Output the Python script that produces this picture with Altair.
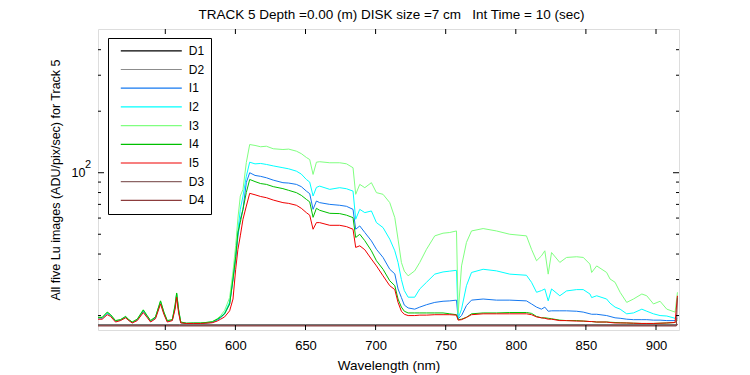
import altair as alt
import pandas as pd

# ---------------- data ----------------
series_names = ["D1", "D2", "I1", "I2", "I3", "I4", "I5", "D3", "D4"]
series_colors = ["#000000", "#8c8c8c", "#1478f0", "#00ffff", "#80ff80",
                 "#00c000", "#f00000", "#8c6464", "#8c3c3c"]

wl_I = [502, 505, 508.6, 511, 514.5, 518, 521.7, 524, 526.4, 530, 534.3, 537, 539.5, 543,
        546.6, 549, 551.4, 555, 557, 558.1, 559.5, 561, 565, 570, 575, 579, 583.5, 587,
        589.5, 592.3, 595.9, 598.3, 600.2, 601.8, 603.5, 605.4, 607.8, 610.2, 614, 618,
        622.1, 627, 633.9, 638, 643.5, 647, 650.6, 653, 655.4, 657.8, 660.1, 667.3, 674.4,
        679.2, 683.9, 685.8, 688.7, 692.3, 697, 700.6, 705.3, 710.1, 713.7, 716, 718.4,
        720.5, 723.2, 727.9, 731.5, 736.3, 742.2, 748.1, 752.9, 757.7, 758.9, 761.3, 764.8,
        768.4, 776.7, 786.2, 795.7, 807.6, 811.2, 814.8, 818.3, 820.7, 823.1, 825.5, 831.4,
        836.2, 843.4, 848.1, 852.9, 854.1, 857.7, 864.8, 867.2, 870.8, 874.4, 879.1, 883.9,
        889.9, 893.4, 898.2, 902.9, 907.7, 913.6, 915.3]

I3 = [19.6, 19.6, 20.8, 20.2, 18.9, 19.1, 19.8, 19.1, 18.6, 19.2, 21.4, 20.0, 18.9, 19.7,
      23.6, 20.8, 18.9, 19.1, 22.5, 25.8, 21.4, 18.6, 18.35, 18.4, 18.4, 18.5, 18.7, 19.3,
      20.0, 21.2, 24.5, 33.0, 44.0, 60.0, 76.9, 82.9, 112.3, 137.4, 136.0, 134.0,
      134.8, 131.0, 129.9, 130.5, 127.5, 124.0, 118.8, 116.0, 98.1, 112.6, 113.2, 111.9, 111.9,
      110.6, 105.8, 78.4, 87.7, 84.5, 89.4, 79.9, 78.4, 71.4, 60.3, 47.3, 36.4,
      33.0, 31.3, 33.1, 36.4, 42.2, 49.1, 50.6, 51.0, 51.9, 20.5, 35.0, 45.6,
      51.9, 53.3, 51.9, 50.0, 49.1, 42.2, 37.1, 39.2, 41.5, 31.9, 40.7, 36.4,
      38.5, 38.8, 38.5, 35.7, 32.5, 35.0, 32.5, 30.2, 29.1, 26.0, 23.2, 24.1,
      25.5, 25.0, 22.8, 23.5, 21.5, 20.8, 26.0]

I2 = [19.5, 19.5, 20.6, 20.0, 18.8, 19.0, 19.7, 19.0, 18.5, 19.1, 21.2, 19.9, 18.8, 19.6,
      23.4, 20.6, 18.8, 19.0, 22.2, 25.5, 21.2, 18.5, 18.3, 18.35, 18.35, 18.45, 18.6, 19.1,
      19.7, 20.6, 23.3, 30.5, 40.0, 52.0, 66.2, 76.9, 96.2, 112.6, 110.5, 111.0,
      109.8, 108.0, 105.8, 104.5, 101.8, 98.5, 92.7, 90.0, 76.9, 84.8, 86.0, 82.9, 84.5,
      83.5, 81.3, 59.2, 66.2, 63.8, 65.0, 57.0, 53.9, 47.3, 41.5, 36.4, 30.0,
      26.5, 24.6, 24.6, 27.0, 29.1, 31.9, 32.7, 33.0, 33.3, 19.4, 21.5, 28.0,
      32.5, 33.7, 33.1, 31.9, 31.5, 29.1, 26.0, 26.5, 27.0, 23.6, 27.0, 25.0,
      26.4, 26.8, 26.8, 25.5, 24.5, 25.0, 24.1, 23.0, 22.0, 21.5, 20.4, 20.6,
      21.5, 21.0, 20.4, 20.0, 19.9, 19.4, 20.0]

I1 = [19.5, 19.4, 20.5, 20.0, 18.8, 19.0, 19.6, 19.0, 18.5, 19.0, 21.0, 19.8, 18.75, 19.5,
      23.2, 20.5, 18.75, 19.0, 22.0, 25.4, 21.0, 18.5, 18.3, 18.3, 18.3, 18.4, 18.5, 19.0,
      19.5, 20.4, 22.8, 30.0, 38.0, 49.0, 59.2, 66.2, 89.7, 100.0, 97.0, 96.0,
      94.5, 92.0, 89.4, 89.0, 87.7, 85.5, 81.3, 79.0, 66.2, 72.7, 71.4, 70.0, 69.3,
      68.5, 66.2, 52.9, 54.9, 51.0, 46.4, 42.2, 38.5, 33.7, 32.0, 27.0, 24.5,
      22.5, 21.8, 21.5, 22.0, 22.6, 23.2, 23.5, 23.6, 23.8, 19.3, 20.0, 22.4,
      23.8, 24.1, 23.8, 23.8, 23.6, 22.8, 22.0, 21.5, 22.0, 21.0, 21.1, 21.1,
      21.1, 21.0, 20.8, 20.4, 20.3, 20.3, 20.0, 19.8, 19.5, 19.4, 19.2, 19.1,
      19.1, 19.1, 19.0, 19.0, 18.9, 18.9, 19.5]

I4 = [19.6, 19.6, 20.8, 20.2, 18.9, 19.1, 19.8, 19.1, 18.6, 19.2, 21.3, 20.0, 18.9, 19.7,
      23.6, 20.8, 18.9, 19.1, 22.6, 25.8, 21.4, 18.6, 18.35, 18.4, 18.4, 18.5, 18.65, 19.2,
      19.7, 20.4, 22.8, 30.2, 38.8, 51.1, 57.2, 66.2, 80.1, 92.7, 90.5, 88.5,
      87.7, 85.5, 83.6, 82.0, 79.9, 77.5, 74.1, 72.0, 60.5, 67.0, 65.5, 63.3, 63.1,
      62.0, 60.3, 48.2, 50.0, 46.5, 41.5, 37.1, 33.7, 29.6, 28.0, 24.1, 22.0,
      21.0, 20.6, 20.6, 20.6, 20.6, 20.6, 20.6, 20.4, 20.2, 19.1, 19.2, 19.6,
      20.4, 20.6, 20.6, 20.7, 20.7, 20.5, 19.8, 19.5, 19.5, 19.4, 19.3, 19.0,
      18.9, 18.9, 18.8, 18.7, 18.7, 18.6, 18.6, 18.55, 18.5, 18.45, 18.4, 18.35,
      18.3, 18.3, 18.3, 18.35, 18.4, 18.5, 19.0]

I5 = [19.2, 19.2, 20.2, 19.8, 18.6, 18.9, 19.5, 18.9, 18.4, 18.9, 20.7, 19.6, 18.6, 19.3,
      22.8, 20.3, 18.6, 18.9, 21.5, 24.6, 20.6, 18.4, 18.3, 18.3, 18.3, 18.35, 18.45, 18.8,
      19.2, 19.7, 21.1, 24.1, 33.7, 42.2, 49.1, 59.2, 68.7, 79.3, 78.0, 76.5,
      75.5, 73.5, 71.4, 70.8, 69.3, 67.0, 63.8, 62.0, 52.9, 57.0, 57.0, 55.3, 55.3,
      54.5, 52.9, 43.1, 43.9, 42.0, 37.8, 35.0, 31.3, 28.0, 26.8, 23.2, 21.0,
      20.3, 20.0, 20.0, 20.1, 20.1, 20.2, 20.2, 20.2, 20.1, 19.0, 19.1, 19.6,
      20.2, 20.4, 20.4, 20.4, 20.4, 20.2, 19.7, 19.5, 19.4, 19.2, 19.2, 18.9,
      18.9, 18.8, 18.8, 18.7, 18.7, 18.6, 18.6, 18.5, 18.4, 18.4, 18.4, 18.35,
      18.3, 18.3, 18.3, 18.35, 18.4, 18.5, 25.0]

wl_D = [502, 560, 600, 650, 700, 750, 800, 850, 900, 914.5, 915.3]
D1 = [18.0, 18.0, 18.0, 18.0, 18.0, 18.0, 18.0, 18.0, 18.0, 18.0, 18.1]
D2 = [17.95, 17.95, 17.95, 17.95, 17.95, 17.95, 17.95, 17.95, 17.95, 17.95, 18.0]
D3 = [17.85, 17.85, 17.85, 17.85, 17.85, 17.85, 17.85, 17.85, 17.85, 17.85, 18.2]
D4 = [17.8, 17.8, 17.8, 17.8, 17.8, 17.8, 17.8, 17.8, 17.8, 17.8, 24.5]

x_ticks = [550, 600, 650, 700, 750, 800, 850, 900]
y_major = [100]
y_minor = [20, 30, 40, 50, 60, 70, 80, 90, 200, 300, 400]

title_text = "TRACK 5 Depth =0.00 (m) DISK size =7 cm \u00a0\u00a0Int Time = 10 (sec)"

# ---------------- build table ----------------
vals = {"D1": D1, "D2": D2, "I1": I1, "I2": I2, "I3": I3, "I4": I4, "I5": I5, "D3": D3, "D4": D4}
rows = []
for name in series_names:
    xs = wl_D if name.startswith("D") else wl_I
    ys = vals[name]
    assert len(xs) == len(ys), name
    for w, v in zip(xs, ys):
        rows.append({"wl": w, "val": v, "series": name})
df = pd.DataFrame(rows)

W, H = 581, 301
FONT = "Liberation Sans"
xscale = alt.Scale(domain=[502, 916.4], nice=False, zero=False)
yscale = alt.Scale(type="log", domain=[17, 505], nice=False)

lines = alt.Chart(df).mark_line(strokeWidth=1, interpolate="linear").encode(
    x=alt.X("wl:Q", scale=xscale,
            axis=alt.Axis(values=x_ticks, ticks=False, domain=False, grid=False,
                          labelFont=FONT, labelFontSize=13, labelColor="black",
                          labelPadding=9, title="Wavelength (nm)", titleFont=FONT,
                          titleFontSize=13.5, titleFontWeight="normal", titleColor="black",
                          titlePadding=6)),
    y=alt.Y("val:Q", scale=yscale,
            axis=alt.Axis(values=y_major, labelExpr="'10'", ticks=False, domain=False,
                          grid=False, labelFont=FONT, labelFontSize=12.5, labelColor="black",
                          labelPadding=13,
                          title="All five Lu images (ADU/pix/sec) for Track 5",
                          titleFont=FONT, titleFontSize=12.5, titleFontWeight="normal",
                          titleColor="black", titlePadding=9)),
    color=alt.Color("series:N", sort=series_names,
                    scale=alt.Scale(domain=series_names, range=series_colors),
                    legend=alt.Legend(orient="none", legendX=10, legendY=9, title=None,
                                      symbolType="M0,0H12.2", symbolSize=100,
                                      symbolStrokeWidth=1.2, symbolOffset=0,
                                      labelFont=FONT, labelFontSize=12, labelColor="black",
                                      labelOffset=62, rowPadding=6.7, padding=6.8,
                                      strokeColor="black", fillColor="white",
                                      labelExpr="datum.label + '   '")),
)

xt = pd.DataFrame({"wl": x_ticks})
ymaj = pd.DataFrame({"val": y_major})
ymin = pd.DataFrame({"val": y_minor})

xb = alt.Chart(xt).mark_rule(color="black", strokeWidth=1).encode(
    x=alt.X("wl:Q", scale=xscale), y=alt.value(H), y2=alt.value(H - 5))
xtop = alt.Chart(xt).mark_rule(color="black", strokeWidth=1).encode(
    x=alt.X("wl:Q", scale=xscale), y=alt.value(0), y2=alt.value(5))
yl_maj = alt.Chart(ymaj).mark_rule(color="black", strokeWidth=1).encode(
    y=alt.Y("val:Q", scale=yscale), x=alt.value(0), x2=alt.value(6))
yr_maj = alt.Chart(ymaj).mark_rule(color="black", strokeWidth=1).encode(
    y=alt.Y("val:Q", scale=yscale), x=alt.value(W), x2=alt.value(W - 6))
yl_min = alt.Chart(ymin).mark_rule(color="black", strokeWidth=1).encode(
    y=alt.Y("val:Q", scale=yscale), x=alt.value(0), x2=alt.value(3))
yr_min = alt.Chart(ymin).mark_rule(color="black", strokeWidth=1).encode(
    y=alt.Y("val:Q", scale=yscale), x=alt.value(W), x2=alt.value(W - 3))
exp2 = alt.Chart(ymaj).mark_text(text="2", font=FONT, fontSize=11, color="black",
                                 align="center", dy=-8).encode(
    y=alt.Y("val:Q", scale=yscale), x=alt.value(-10))

chart = alt.layer(lines, xb, xtop, yl_maj, yr_maj, yl_min, yr_min, exp2).properties(
    width=W, height=H,
    title=alt.TitleParams(title_text, font=FONT, fontSize=13.5, fontWeight="normal",
                          color="black", anchor="middle", offset=7, dx=3),
    autosize=alt.AutoSizeParams(type="none"),
    padding={"left": 90, "top": 21, "right": 60, "bottom": 46},
).configure_view(stroke="black", strokeWidth=1).configure(background="white")

chart.save("out.html", embed_options={"renderer": "svg", "actions": False})
